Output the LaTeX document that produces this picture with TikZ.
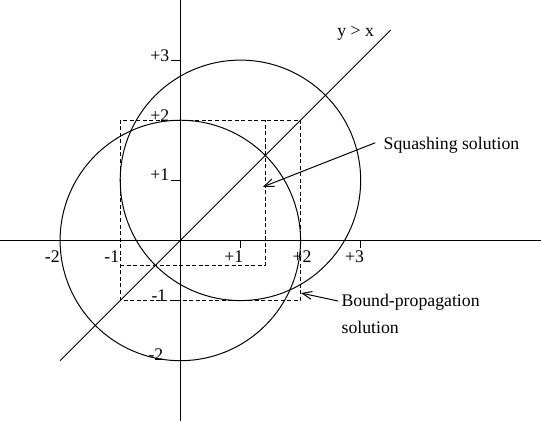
\documentclass[tikz,border=0pt]{standalone}
\usepackage{fontspec}
\setmainfont{Liberation Serif}
\usetikzlibrary{arrows.meta}
\begin{document}
\begin{tikzpicture}[x=1cm,y=1cm,line width=0.47pt,
  lbl/.style={inner sep=0pt,font=\fontsize{8.4}{10}\selectfont},
  dsh/.style={dash pattern=on 1.9pt off 1.2pt},
  arr/.style={-{Straight Barb[length=1.6mm,width=1.3mm]}}]
\useasboundingbox (-3,-3) rectangle (6,4);
% axes
\draw (-3,0) -- (6,0);
\draw (0,-3) -- (0,4);
% ticks
\foreach \y in {3,2,1,-1,-2} \draw (-0.15,\y) -- (0,\y);
\foreach \x in {1,3} \draw (\x,0) -- (\x,-0.12);
% circles
\draw (0,0) circle (2);
\draw (1,1) circle (2);
% line y = x
\draw (-2,-2) -- (3.5,3.5);
% dashed rectangles
\draw[dsh] (-1,-1) rectangle (2,2);
\draw[dsh] (-1,{1-sqrt(2)}) -- ({sqrt(2)},{1-sqrt(2)}) -- ({sqrt(2)},2);
% axis labels
\node[lbl,anchor=base] (xm2) at (-2.13,-0.375) {-2};
\node[lbl,anchor=base] (xm1) at (-1.14,-0.375) {-1};
\node[lbl,anchor=base] (xp1) at (0.89,-0.375) {+1};
\node[lbl,anchor=base] (xp2) at (2.025,-0.375) {+2};
\node[lbl,anchor=base] (xp3) at (2.9,-0.375) {+3};
\node[lbl,anchor=base east] (yp3) at (-0.175,2.975) {+3};
\node[lbl,anchor=base east] (yp2) at (-0.175,1.975) {+2};
\node[lbl,anchor=base east] (yp1) at (-0.175,1.0) {+1};
\node[lbl,anchor=base east] (ym1) at (-0.225,-1.008) {-1};
\node[lbl,anchor=base east] (ym2) at (-0.275,-1.99) {-2};
% other labels
\node[lbl,anchor=base] (yx) at (2.917,3.387) {y > x};
\node[lbl,anchor=base west] (sq) at (3.375,1.508) {Squashing solution};
\node[lbl,anchor=base west] (bp) at (2.675,-1.092) {Bound-propagation};
\node[lbl,anchor=base west] (bp2) at (2.675,-1.54) {solution};
% arrows
\coordinate (sqtail) at (3.242,1.625);
\coordinate (sqtip) at (1.375,0.892);
\coordinate (bptail) at (2.625,-1.008);
\coordinate (bptip) at (2.008,-0.875);
\draw[arr] (sqtail) -- (sqtip);
\draw[arr] (bptail) -- (bptip);
\end{tikzpicture}
\end{document}
